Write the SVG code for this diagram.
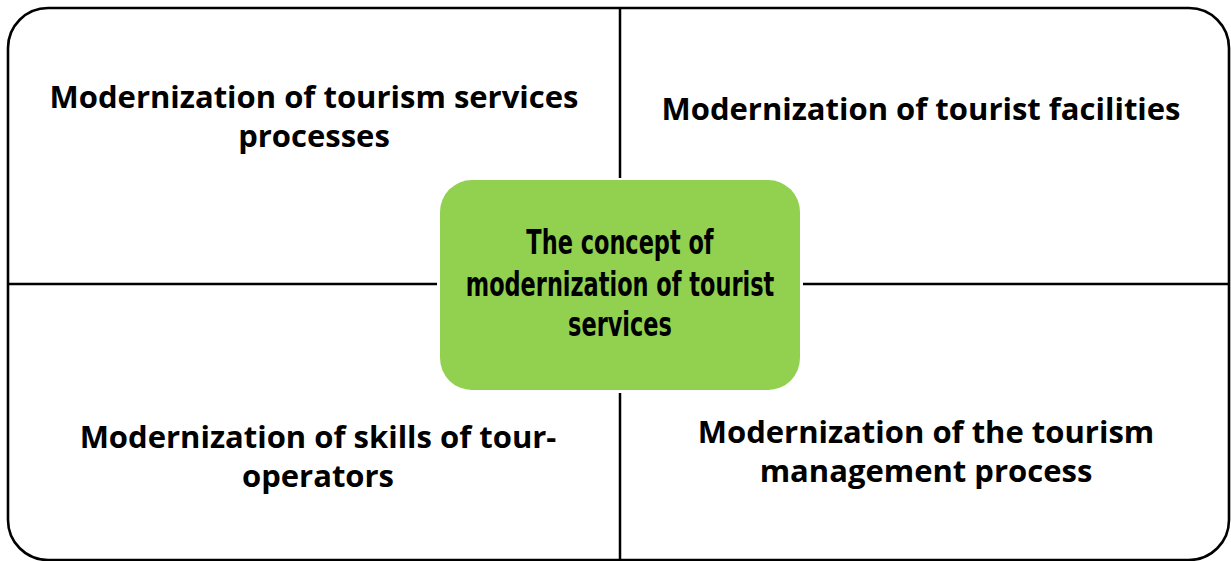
<svg xmlns="http://www.w3.org/2000/svg" width="1231" height="561" viewBox="0 0 1231 561">
<style>
.frame{fill:none;stroke:#000;stroke-width:2.6}
.ln{stroke:#000;stroke-width:2.5;fill:none}
.lbl{font-family:"Open Sans","Liberation Sans",sans-serif;font-weight:bold;font-size:31px;fill:#000;text-anchor:middle}
.ctr{font-family:"DejaVu Sans",sans-serif;font-weight:bold;font-size:34px;fill:#000;text-anchor:middle}
</style>
<rect width="1231" height="561" fill="#fff"/>
<rect class="frame" x="8" y="8" width="1221" height="552" rx="40"/>
<g id="connectors">
<line class="ln" x1="620" y1="8" x2="620" y2="178"/>
<line class="ln" x1="620" y1="393" x2="620" y2="561"/>
<line class="ln" x1="8" y1="284" x2="437" y2="284"/>
<line class="ln" x1="803" y1="284" x2="1229" y2="284"/>
</g>
<g id="node-tl"><text class="lbl" x="314" y="108">Modernization of tourism services</text><text class="lbl" x="314" y="147">processes</text></g>
<g id="node-tr"><text class="lbl" x="921" y="120">Modernization of tourist facilities</text></g>
<g id="node-bl"><text class="lbl" x="318" y="448">Modernization of skills of tour-</text><text class="lbl" x="318" y="487">operators</text></g>
<g id="node-br"><text class="lbl" x="926" y="443">Modernization of the tourism</text><text class="lbl" x="926" y="482">management process</text></g>
<g id="node-center">
<rect x="440" y="180" width="360" height="210" rx="32" fill="#92D050"/>
<g transform="translate(620,0) scale(0.66,1)">
<text class="ctr" x="0" y="254">The concept of</text>
<text class="ctr" x="0" y="296">modernization of tourist</text>
<text class="ctr" x="0" y="336">services</text>
</g>
</g>
</svg>
